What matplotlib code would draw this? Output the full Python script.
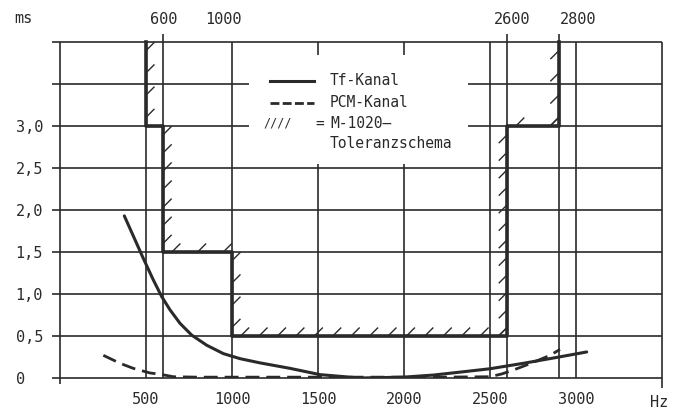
import matplotlib
matplotlib.use('Agg')
import matplotlib.pyplot as plt
import matplotlib.patheffects as pe
from matplotlib.patches import Rectangle

# group delay, Tf channel (solid)
freq_tf = [374, 446, 484, 542, 591, 640, 698, 766, 853, 950, 1047, 1163, 1337, 1512, 1744, 1996, 2171, 2326, 2500, 2694, 2888, 3062]
delay_tf = [1.93, 1.60, 1.425, 1.17, 0.97, 0.81, 0.65, 0.51, 0.39, 0.29, 0.23, 0.18, 0.115, 0.04, 0.0, 0.01, 0.035, 0.07, 0.11, 0.175, 0.245, 0.31]

# group delay, PCM channel (dashed)
freq_pcm = [252, 349, 426, 523, 581, 659, 800, 1000, 1300, 1600, 1900, 2200, 2500, 2568, 2636, 2713, 2791, 2849, 2907]
delay_pcm = [0.27, 0.175, 0.115, 0.06, 0.045, 0.015, 0.01, 0.01, 0.01, 0.01, 0.01, 0.01, 0.015, 0.048, 0.095, 0.155, 0.22, 0.27, 0.34]

# M.1020 tolerance mask
tol_freq = [500, 500, 600, 600, 1000, 1000, 2600, 2600, 2900, 2900]
tol_delay = [4.0, 3.0, 3.0, 1.5, 1.5, 0.5, 0.5, 3.0, 3.0, 4.0]

x_ticks = [500, 1000, 1500, 2000, 2500, 3000]
x_tick_labels = ['500', '1000', '1500', '2000', '2500', '3000']
y_ticks = [0, 0.5, 1.0, 1.5, 2.0, 2.5, 3.0]
y_tick_labels = ['0', '0,5', '1,0', '1,5', '2,0', '2,5', '3,0']
top_labels = ['600', '1000', '2600', '2800']
top_label_pos = [600, 950, 2630, 3010]

grid_freq = [500, 600, 1000, 1500, 2000, 2500, 2600, 2900, 3000]
grid_delay = [0, 0.5, 1.0, 1.5, 2.0, 2.5, 3.0, 3.5, 4.0]

ink = '#2a2a2a'
plt.rcParams['font.family'] = ['DejaVu Sans Mono']
plt.rcParams['font.size'] = 11

fig = plt.figure(figsize=(6.76, 4.16), dpi=100)
ax = fig.add_axes([60 / 676, 38 / 416, 602 / 676, 336 / 416])
ax.set_xlim(0, 3500)
ax.set_ylim(0, 4.0)
for s in ax.spines.values():
    s.set_visible(False)

# grid
ax.hlines(grid_delay, -46, 3500, color=ink, lw=1.2, clip_on=False, zorder=1)
ax.vlines(grid_freq, 0, 4.0, color=ink, lw=1.2, zorder=1)
ax.vlines([600, 2600, 2900], 4.0, 4.1, color=ink, lw=1.2, clip_on=False, zorder=1)
ax.vlines(0, -0.07, 4.0, color=ink, lw=1.2, clip_on=False, zorder=1)
ax.vlines(3500, -0.12, 4.0, color=ink, lw=1.2, clip_on=False, zorder=1)

# blank area behind legend
ax.add_patch(Rectangle((1100, 2.55), 1270, 1.3, fc='white', ec='none', zorder=2))

# tolerance mask with tick hatching
ax.plot(tol_freq, tol_delay, color=ink, lw=2.6, zorder=4, clip_on=False)
for i in range(len(tol_freq) - 1):
    seg_x = tol_freq[i:i + 2]
    seg_y = tol_delay[i:i + 2]
    ang = 135 if seg_x[0] == seg_x[1] else 45
    ax.plot(seg_x, seg_y, color=ink, lw=1, zorder=3, clip_on=False,
            path_effects=[pe.withTickedStroke(angle=ang, spacing=12.5, length=0.65, linewidth=1.0)])

# curves
ax.plot(freq_tf, delay_tf, color=ink, lw=2.2, zorder=5, solid_capstyle='round', solid_joinstyle='round')
ax.plot(freq_pcm, delay_pcm, color=ink, lw=2.0, zorder=5, dashes=(5, 2.5))

# legend
ax.plot([0.349, 0.422], [0.885, 0.885], transform=ax.transAxes, color=ink, lw=2.2, zorder=6)
ax.plot([0.349, 0.422], [0.819, 0.819], transform=ax.transAxes, color=ink, lw=2.0, dashes=(3.2, 1.2), zorder=6)
ax.text(0.4485, 0.885, 'Tf-Kanal', transform=ax.transAxes, va='center', color=ink, zorder=6, fontsize=10.5)
ax.text(0.4485, 0.819, 'PCM-Kanal', transform=ax.transAxes, va='center', color=ink, zorder=6, fontsize=10.5)
ax.text(0.362, 0.758, '////', transform=ax.transAxes, va='center', ha='center', color=ink, zorder=6, fontsize=8.5)
ax.text(0.432, 0.758, '=', transform=ax.transAxes, va='center', ha='center', color=ink, zorder=6, fontsize=10.5)
ax.text(0.4485, 0.758, 'M-1020–', transform=ax.transAxes, va='center', color=ink, zorder=6, fontsize=10.5)
ax.text(0.4485, 0.699, 'Toleranzschema', transform=ax.transAxes, va='center', color=ink, zorder=6, fontsize=10.5)

# axis labels
ax.set_xticks(x_ticks, x_tick_labels)
ax.tick_params(axis='x', length=0, pad=10, colors=ink)
ax.set_yticks(y_ticks, y_tick_labels)
ax.tick_params(axis='y', length=0, pad=32, colors=ink)
for t in ax.get_yticklabels():
    t.set_ha('left')

xt = ax.get_xaxis_transform()
for lab, pos in zip(top_labels, top_label_pos):
    ax.text(pos, 1.068, lab, transform=xt, ha='center', va='center', color=ink)
ax.text(-0.061, 1.071, 'ms', transform=ax.transAxes, ha='center', va='center', color=ink)
ax.text(0.995, -0.074, 'Hz', transform=ax.transAxes, ha='center', va='center', color=ink)

fig.savefig('out.png', dpi=100)
